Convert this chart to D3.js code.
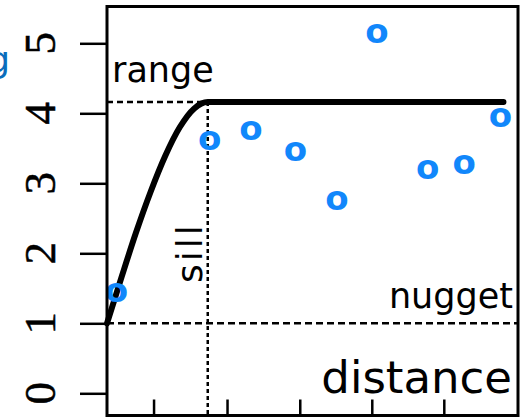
<!DOCTYPE html>
<html>
<head>
<meta charset="utf-8">
<script src="https://cdn.jsdelivr.net/npm/d3@7"></script>
<style>
  body { margin: 0; background: #fff; }
  svg { display: block; }
</style>
</head>
<body>
<div id="chart"></div>
<script>
// empirical semivariogram points (distance, gamma)
const distance = [0.13, 1.41, 1.98, 2.59, 3.16, 3.71, 4.41, 4.91, 5.41];
const semivariance = [1.44, 3.61, 3.76, 3.46, 2.76, 5.15, 3.2, 3.27, 3.95];

// fitted model line
const modelDistance = [0, 0.2, 0.4, 0.6, 0.8, 1.0, 1.2, 1.385, 5.45];
const modelGamma = [1.0, 1.66, 2.3, 2.88, 3.39, 3.8, 4.07, 4.16, 4.16];

const nugget = 1.0;
const sill = 4.16;
const range = 1.385;

const yTicks = [0, 1, 2, 3, 4, 5];
const xTicks = [0.64, 1.65, 2.65, 3.64, 4.63];

(function(){
  const W = 525, H = 417;
  const box = { left: 107, right: 518, top: 6.5, bottom: 415.5 };
  const serif = "Liberation Serif";
  const sans = "DejaVu Sans";

  const svg = d3.select("#chart")
    .append("svg")
    .attr("width", W)
    .attr("height", H);

  // scales
  const x = d3.scaleLinear()
    .domain([0, 5.65])
    .range([box.left, box.right]);

  const y = d3.scaleLinear()
    .domain([0, 5])
    .range([393.3, 43.3]);

  // y axis, ticks outside; labels drawn below
  const yAxis = svg.append("g")
    .attr("transform", `translate(${box.left},0)`)
    .call(d3.axisLeft(y).tickValues(yTicks).tickSize(27).tickFormat(""));
  yAxis.select(".domain").remove();
  yAxis.selectAll(".tick line")
    .attr("stroke", "#000")
    .attr("stroke-width", 2.5);

  // rotated serif tick labels
  svg.append("g")
    .selectAll("text")
    .data(yTicks)
    .enter()
    .append("text")
    .attr("transform", d => `translate(55,${y(d)}) rotate(-90)`)
    .attr("text-anchor", "middle")
    .attr("fill", "#000")
    .attr("stroke", "#000")
    .attr("stroke-width", 0.5)
    .style("font-family", serif)
    .style("font-size", "45px")
    .text(d => d);

  // x axis ticks point inward from the bottom edge, no labels
  const xAxis = svg.append("g")
    .attr("transform", `translate(0,${box.bottom})`)
    .call(d3.axisTop(x).tickValues(xTicks).tickSize(16).tickFormat(""));
  xAxis.select(".domain").remove();
  xAxis.selectAll(".tick line")
    .attr("stroke", "#000")
    .attr("stroke-width", 2.5);

  // reference lines
  svg.append("line")
    .attr("x1", box.left).attr("x2", x(range))
    .attr("y1", y(sill)).attr("y2", y(sill))
    .attr("stroke", "#000").attr("stroke-width", 2.5)
    .attr("stroke-dasharray", "6,4");

  svg.append("line")
    .attr("x1", box.left).attr("x2", box.right)
    .attr("y1", y(nugget)).attr("y2", y(nugget))
    .attr("stroke", "#000").attr("stroke-width", 2.5)
    .attr("stroke-dasharray", "7,4");

  svg.append("line")
    .attr("x1", x(range)).attr("x2", x(range))
    .attr("y1", y(sill)).attr("y2", box.bottom)
    .attr("stroke", "#000").attr("stroke-width", 2.5)
    .attr("stroke-dasharray", "4,3");

  // model curve
  const model = modelDistance.map((d, i) => [d, modelGamma[i]]);
  svg.append("path")
    .datum(model)
    .attr("fill", "none")
    .attr("stroke", "#000")
    .attr("stroke-width", 6)
    .attr("stroke-linecap", "round")
    .attr("d", d3.line().x(d => x(d[0])).y(d => y(d[1])).curve(d3.curveMonotoneX));

  // points drawn as bold "o"
  svg.selectAll("text.pt")
    .data(distance)
    .enter()
    .append("text")
    .attr("class", "pt")
    .attr("x", d => x(d))
    .attr("y", (d, i) => y(semivariance[i]))
    .attr("dy", "0.29em")
    .attr("text-anchor", "middle")
    .attr("fill", "#1187fb")
    .style("font-family", sans)
    .style("font-weight", "bold")
    .style("font-size", "34px")
    .text("o");

  // annotations
  svg.append("text")
    .attr("x", 112).attr("y", 82)
    .style("font-family", sans).style("font-size", "35px")
    .text("range");

  svg.append("text")
    .attr("x", 513).attr("y", 308)
    .attr("text-anchor", "end")
    .style("font-family", sans).style("font-size", "35px")
    .text("nugget");

  svg.append("text")
    .attr("x", 512).attr("y", 393)
    .attr("text-anchor", "end")
    .style("font-family", sans).style("font-size", "45px")
    .text("distance");

  svg.append("text")
    .attr("transform", "translate(202,283) rotate(-90)")
    .style("font-family", sans).style("font-size", "36px")
    .style("letter-spacing", "3px")
    .text("sill");

  // y axis title, cut by the left edge as in the reference
  svg.append("text")
    .attr("x", 10).attr("y", 72)
    .attr("text-anchor", "end")
    .attr("fill", "#0b6dbb")
    .style("font-family", sans).style("font-size", "36px")
    .text("g");

  // plot frame
  svg.append("rect")
    .attr("x", box.left).attr("y", box.top)
    .attr("width", box.right - box.left)
    .attr("height", box.bottom - box.top)
    .attr("fill", "none")
    .attr("stroke", "#000")
    .attr("stroke-width", 3);
})();
</script>
</body>
</html>
